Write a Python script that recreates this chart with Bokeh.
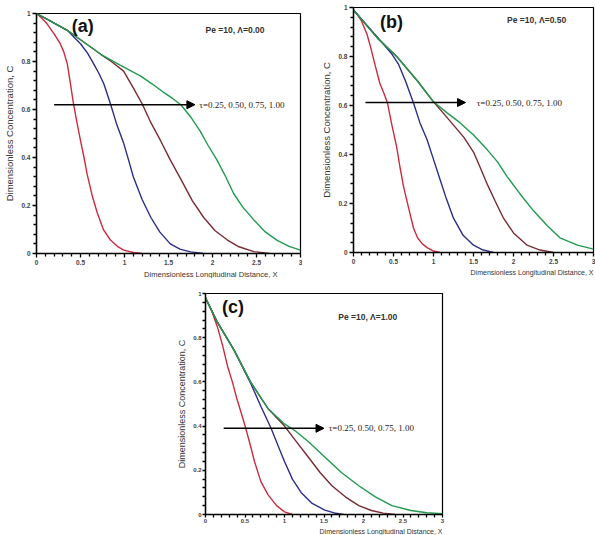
from bokeh.plotting import figure
from bokeh.layouts import column, row
from bokeh.models import Spacer, Arrow, NormalHead, Label, Title, Range1d, FixedTicker
from bokeh.embed import file_html
from bokeh.resources import INLINE

# ---------------- data ----------------
x_ticks = [0, 0.5, 1, 1.5, 2, 2.5, 3]
x_tick_labels = ["0", "0.5", "1", "1.5", "2", "2.5", "3"]
x_minor = [0.1, 0.2, 0.3, 0.4, 0.6, 0.7, 0.8, 0.9, 1.1, 1.2, 1.3, 1.4, 1.6, 1.7, 1.8, 1.9,
           2.1, 2.2, 2.3, 2.4, 2.6, 2.7, 2.8, 2.9]
y_ticks = [0, 0.2, 0.4, 0.6, 0.8, 1]
y_tick_labels = ["0", "0.2", "0.4", "0.6", "0.8", "1"]
y_minor = [0.04, 0.08, 0.12, 0.16, 0.24, 0.28, 0.32, 0.36, 0.44, 0.48, 0.52, 0.56,
           0.64, 0.68, 0.72, 0.76, 0.84, 0.88, 0.92, 0.96]

series_names = ["τ=0.25", "τ=0.50", "τ=0.75", "τ=1.00"]
series_colors = ["#cc2b3f", "#2b2e86", "#7a2a33", "#1f9a4e"]

# panel (a): Pe=10, Λ=0.00
a_x_red = [0, 0.06, 0.12, 0.2, 0.27, 0.31, 0.35, 0.386, 0.42, 0.46, 0.5, 0.54, 0.576, 0.63, 0.69, 0.76, 0.84, 0.92, 0.99, 1.1, 1.2]
a_y_red = [1.0, 0.98, 0.957, 0.915, 0.874, 0.84, 0.79, 0.707, 0.624, 0.545, 0.47, 0.4, 0.33, 0.245, 0.17, 0.1, 0.056, 0.03, 0.014, 0.004, 0.0]
a_x_blue = [0, 0.15, 0.35, 0.5, 0.58, 0.65, 0.71, 0.765, 0.84, 0.91, 0.99, 1.05, 1.1, 1.2, 1.3, 1.4, 1.52, 1.63, 1.75, 1.9]
a_y_blue = [1.0, 0.97, 0.93, 0.874, 0.835, 0.79, 0.75, 0.707, 0.624, 0.54, 0.46, 0.385, 0.32, 0.225, 0.15, 0.09, 0.04, 0.018, 0.007, 0.0]
a_x_brown = [0, 0.35, 0.73, 0.85, 0.99, 1.1, 1.2, 1.3, 1.41, 1.52, 1.64, 1.77, 1.9, 2.03, 2.17, 2.3, 2.47, 2.65]
a_y_brown = [1.0, 0.93, 0.83, 0.8, 0.76, 0.69, 0.624, 0.545, 0.47, 0.39, 0.31, 0.22, 0.15, 0.095, 0.056, 0.028, 0.008, 0.0]
a_x_green = [0, 0.35, 0.73, 0.95, 1.18, 1.32, 1.45, 1.55, 1.64, 1.75, 1.86, 1.95, 2.05, 2.15, 2.24, 2.35, 2.47, 2.6, 2.73, 2.87, 3.0]
a_y_green = [1.0, 0.93, 0.83, 0.785, 0.74, 0.705, 0.67, 0.645, 0.62, 0.57, 0.51, 0.45, 0.39, 0.32, 0.25, 0.19, 0.14, 0.09, 0.056, 0.03, 0.014]

# panel (b): Pe=10, Λ=0.50
b_x_red = [0, 0.05, 0.1, 0.17, 0.22, 0.27, 0.33, 0.38, 0.425, 0.48, 0.54, 0.58, 0.625, 0.69, 0.75, 0.8, 0.86, 0.92, 1.0, 1.08]
b_y_red = [0.99, 0.97, 0.945, 0.89, 0.83, 0.765, 0.69, 0.65, 0.61, 0.52, 0.43, 0.35, 0.27, 0.18, 0.1, 0.06, 0.035, 0.02, 0.006, 0.0]
b_x_blue = [0, 0.2, 0.375, 0.48, 0.56, 0.65, 0.75, 0.83, 0.92, 1.0, 1.08, 1.16, 1.25, 1.37, 1.5, 1.62, 1.75]
b_y_blue = [0.99, 0.915, 0.85, 0.81, 0.77, 0.7, 0.61, 0.53, 0.46, 0.38, 0.3, 0.22, 0.14, 0.07, 0.03, 0.01, 0.0]
b_x_brown = [0, 0.3, 0.54, 0.8, 1.0, 1.12, 1.25, 1.38, 1.5, 1.58, 1.67, 1.77, 1.875, 2.0, 2.17, 2.33, 2.5]
b_y_brown = [0.99, 0.875, 0.8, 0.7, 0.615, 0.57, 0.52, 0.47, 0.41, 0.35, 0.28, 0.21, 0.14, 0.08, 0.03, 0.01, 0.0]
b_x_green = [0, 0.3, 0.54, 0.8, 1.0, 1.17, 1.33, 1.5, 1.67, 1.8, 1.92, 2.08, 2.25, 2.42, 2.58, 2.8, 3.0]
b_y_green = [0.99, 0.875, 0.8, 0.7, 0.615, 0.57, 0.53, 0.48, 0.42, 0.37, 0.31, 0.24, 0.17, 0.11, 0.06, 0.03, 0.014]

# panel (c): Pe=10, Λ=1.00
c_x_red = [0, 0.08, 0.15, 0.22, 0.28, 0.34, 0.4, 0.46, 0.51, 0.57, 0.62, 0.7, 0.79, 0.9, 1.0, 1.1]
c_y_red = [0.98, 0.92, 0.85, 0.76, 0.67, 0.6, 0.52, 0.45, 0.39, 0.31, 0.24, 0.15, 0.09, 0.04, 0.012, 0.0]
c_x_blue = [0, 0.15, 0.36, 0.57, 0.7, 0.83, 0.92, 1.0, 1.1, 1.21, 1.35, 1.51, 1.63, 1.75]
c_y_blue = [0.98, 0.87, 0.745, 0.595, 0.49, 0.39, 0.31, 0.24, 0.16, 0.1, 0.05, 0.02, 0.007, 0.0]
c_x_brown = [0, 0.15, 0.36, 0.57, 0.79, 1.0, 1.15, 1.3, 1.45, 1.6, 1.77, 1.94, 2.1, 2.25, 2.4]
c_y_brown = [0.98, 0.87, 0.745, 0.6, 0.48, 0.4, 0.33, 0.26, 0.19, 0.13, 0.08, 0.04, 0.018, 0.006, 0.0]
c_x_green = [0, 0.15, 0.36, 0.57, 0.79, 1.0, 1.13, 1.3, 1.51, 1.72, 1.94, 2.15, 2.36, 2.6, 2.8, 3.0]
c_y_green = [0.98, 0.87, 0.745, 0.6, 0.48, 0.41, 0.38, 0.33, 0.26, 0.19, 0.13, 0.08, 0.04, 0.018, 0.008, 0.004]

panel_letters = ["(a)", "(b)", "(c)"]
panel_params = ["Pe =10,  Λ=0.00", "Pe =10, Λ=0.50", "Pe =10, Λ=1.00"]
tau_text = "τ=0.25, 0.50, 0.75, 1.00"
y_label = "Dimensionless Concentration, C"
x_label = "Dimensionless Longitudinal Distance, X"

SANS = "Liberation Sans"
SERIF = "Liberation Serif"


def make_panel(curves, letter, params, letter_pos, params_pos, arrow, tau_pos,
               width, height, bl, br, bt, bb, xlab_offset, xlab_size, ylab_size,
               tick_out=4, label_standoff=2, tick_font="6.5px"):
    p = figure(width=width, height=height, output_backend="svg", toolbar_location=None,
               x_range=Range1d(0, 3), y_range=Range1d(0, 1),
               min_border_left=bl, min_border_right=br, min_border_top=bt, min_border_bottom=bb)
    p.grid.visible = False
    p.outline_line_color = "black"
    p.outline_line_width = 1.2
    p.background_fill_color = "white"
    p.border_fill_color = "white"
    p.xaxis.ticker = FixedTicker(ticks=x_ticks, minor_ticks=x_minor)
    p.yaxis.ticker = FixedTicker(ticks=y_ticks, minor_ticks=y_minor)
    p.xaxis.major_label_overrides = {t: l for t, l in zip(x_ticks, x_tick_labels)}
    p.yaxis.major_label_overrides = {t: l for t, l in zip(y_ticks, y_tick_labels)}
    for ax in (p.xaxis, p.yaxis):
        ax.axis_line_width = 1.4
        ax.major_tick_out = tick_out
        ax.major_tick_in = 0
        ax.minor_tick_out = 3
        ax.minor_tick_in = 0
        ax.major_tick_line_width = 1.3
        ax.minor_tick_line_width = 1.3
        ax.major_label_text_font = SANS
        ax.major_label_text_font_size = tick_font
        ax.major_label_text_font_style = "bold"
        ax.major_label_text_color = "#444444"
        ax.major_label_standoff = label_standoff
    p.yaxis.axis_label = y_label
    p.yaxis.axis_label_text_font = SANS
    p.yaxis.axis_label_text_font_size = ylab_size
    p.yaxis.axis_label_text_font_style = "normal"
    p.yaxis.axis_label_text_color = "#333333"
    p.yaxis.axis_label_standoff = 3
    p.add_layout(Title(text=x_label, align="right", offset=xlab_offset, text_font=SANS,
                       text_font_size=xlab_size, text_font_style="normal",
                       text_color="#333333", standoff=0), "below")

    for (xs, ys), col in zip(curves, series_colors):
        p.line(xs, ys, line_color=col, line_width=1.4)

    p.add_layout(Label(x=letter_pos[0], y=letter_pos[1], text=letter, text_font=SANS,
                       text_font_size="18px", text_font_style="bold", text_color="#111111"))
    p.add_layout(Label(x=params_pos[0], y=params_pos[1], text=params, text_font=SANS,
                       text_font_size="8.5px", text_font_style="bold", text_color="#333333",
                       text_baseline="middle"))
    p.add_layout(Arrow(x_start=arrow[0], x_end=arrow[1], y_start=arrow[2], y_end=arrow[2],
                       line_width=1.5, line_color="black",
                       end=NormalHead(size=8, fill_color="black", line_color="black")))
    p.add_layout(Label(x=tau_pos[0], y=tau_pos[1], text=tau_text, text_font=SERIF,
                       text_font_size="9px", text_color="#222222", text_baseline="middle"))
    return p


pa = make_panel([(a_x_red, a_y_red), (a_x_blue, a_y_blue), (a_x_brown, a_y_brown), (a_x_green, a_y_green)],
                panel_letters[0], panel_params[0], (0.4, 0.905), (1.92, 0.93), (0.2, 1.8, 0.62), (1.85, 0.62),
                width=302, height=278, bl=36, br=2, bt=13, bb=25, xlab_offset=23,
                xlab_size="7.6px", ylab_size="9.5px")
pb = make_panel([(b_x_red, b_y_red), (b_x_blue, b_y_blue), (b_x_brown, b_y_brown), (b_x_green, b_y_green)],
                panel_letters[1], panel_params[1], (0.33, 0.9), (1.92, 0.95), (0.15, 1.4, 0.612), (1.54, 0.612),
                width=293, height=278, bl=51, br=2, bt=7, bb=26, xlab_offset=0,
                xlab_size="7px", ylab_size="9.5px")
pc = make_panel([(c_x_red, c_y_red), (c_x_blue, c_y_blue), (c_x_brown, c_y_brown), (c_x_green, c_y_green)],
                panel_letters[2], panel_params[2], (0.21, 0.895), (1.68, 0.895), (0.23, 1.5, 0.39), (1.56, 0.39),
                width=302, height=257, bl=55, br=10, bt=15, bb=21, xlab_offset=0,
                xlab_size="7px", ylab_size="9px", tick_out=3, label_standoff=1, tick_font="6px")

layout = column(row(column(pa), column(pb), spacing=0),
                row(Spacer(width=150, height=257), column(pc), spacing=0), spacing=0)

open("out.html", "w").write(file_html(layout, INLINE))
